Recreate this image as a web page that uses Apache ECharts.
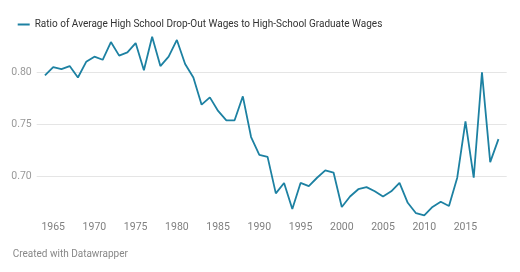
<!DOCTYPE html>
<html>
<head>
<meta charset="utf-8">
<script src="https://cdn.jsdelivr.net/npm/echarts@6/dist/echarts.min.js"></script>
<style>
html,body{margin:0;padding:0;background:#fff;}
#chart{width:520px;height:272px;}
</style>
</head>
<body>
<div id="chart"></div>
<script>
var seriesName = 'Ratio of Average High School Drop-Out Wages to High-School Graduate Wages';
var years = [1964,1965,1966,1967,1968,1969,1970,1971,1972,1973,1974,1975,1976,1977,1978,1979,1980,1981,1982,1983,1984,1985,1986,1987,1988,1989,1990,1991,1992,1993,1994,1995,1996,1997,1998,1999,2000,2001,2002,2003,2004,2005,2006,2007,2008,2009,2010,2011,2012,2013,2014,2015,2016,2017,2018,2019];
var ratio = [0.797,0.805,0.803,0.806,0.795,0.810,0.815,0.812,0.829,0.816,0.819,0.828,0.802,0.834,0.806,0.815,0.831,0.808,0.795,0.769,0.776,0.763,0.754,0.754,0.777,0.738,0.721,0.719,0.684,0.694,0.669,0.694,0.691,0.699,0.706,0.704,0.671,0.681,0.688,0.690,0.686,0.681,0.686,0.694,0.675,0.665,0.663,0.671,0.676,0.672,0.699,0.753,0.699,0.800,0.714,0.736];
var yTicks = [0.70, 0.75, 0.80];

var data = years.map(function (y, i) { return [y, ratio[i]]; });

var chart = echarts.init(document.getElementById('chart'), null, {renderer: 'canvas'});
chart.setOption({
  animation: false,
  backgroundColor: '#fff',
  textStyle: {fontFamily: 'Roboto'},
  legend: {
    left: 12.7, top: 14.5,
    icon: 'rect', itemWidth: 12, itemHeight: 2,
    textStyle: {color: '#333', fontSize: 10, fontFamily: 'Roboto'},
    data: [seriesName]
  },
  grid: {left: 36.7, right: 13.3, top: 20.1, bottom: 43.1, containLabel: false},
  xAxis: {
    type: 'value', min: 1963, max: 2020, interval: 1,
    offset: -11,
    axisLine: {show: false}, axisTick: {show: false}, splitLine: {show: false},
    axisLabel: {
      color: '#808080', fontSize: 10.5, margin: 4, fontFamily: 'Roboto',
      formatter: function (v) { return (v % 5 === 0 && v >= 1965 && v <= 2015) ? String(v) : ''; }
    }
  },
  yAxis: {
    type: 'value', min: 0.65, max: 0.85, interval: 0.05,
    axisLine: {show: false}, axisTick: {show: false},
    splitLine: {show: true, showMinLine: false, showMaxLine: false, lineStyle: {color: '#e5e5e5', width: 1}},
    axisLabel: {
      color: '#999', fontSize: 10.5, margin: 5, fontFamily: 'Roboto',
      showMinLabel: false, showMaxLabel: false,
      formatter: function (v) {
        var s = v.toFixed(2);
        return yTicks.some(function (t) { return t.toFixed(2) === s; }) ? s : '';
      }
    }
  },
  series: [{
    name: seriesName, type: 'line', data: data,
    showSymbol: false, symbol: 'none',
    lineStyle: {color: '#1d81a2', width: 1.8},
    itemStyle: {color: '#1d81a2'}
  }],
  graphic: [{
    type: 'text', left: 12.7, top: 249,
    style: {text: 'Created with Datawrapper', fill: '#888', fontSize: 10, fontFamily: 'Roboto'}
  }]
});
</script>
</body>
</html>
